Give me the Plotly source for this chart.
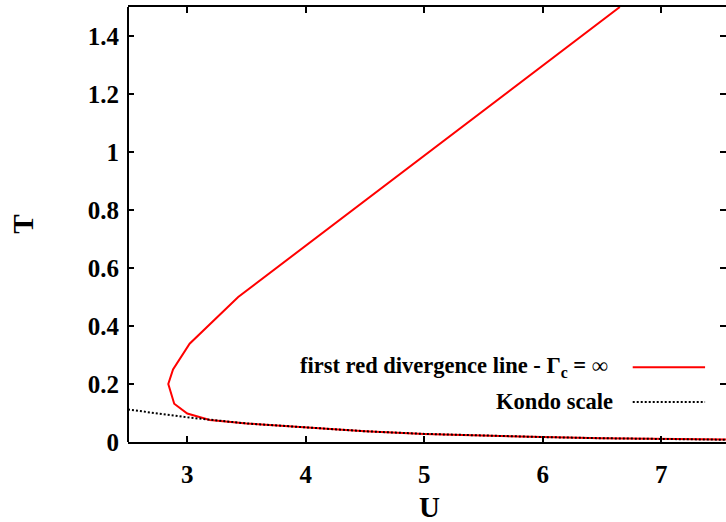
import plotly.graph_objects as go

# Data
red_U = [6.65, 3.43, 3.02, 2.88, 2.84, 2.89, 3.0, 3.19, 3.5, 4.0, 4.5, 5.0, 5.5, 6.0, 6.5, 7.0, 7.6]
red_T = [1.5, 0.5, 0.339, 0.25, 0.2, 0.132, 0.098, 0.076, 0.064, 0.050, 0.037, 0.028, 0.022, 0.017, 0.013, 0.010, 0.008]
kondo_U = [2.5, 3.0, 3.5, 4.0, 4.5, 5.0, 5.5, 6.0, 6.5, 7.0, 7.5, 7.6]
kondo_T = [0.112, 0.085, 0.064, 0.050, 0.037, 0.028, 0.022, 0.017, 0.013, 0.010, 0.008, 0.0075]
x_ticks = [3, 4, 5, 6, 7]
y_ticks = [0, 0.2, 0.4, 0.6, 0.8, 1, 1.2, 1.4]
y_labels = ["0", "0.2", "0.4", "0.6", "0.8", "1", "1.2", "1.4"]
label_red = "first red divergence line - Γ<sub>c</sub> = ∞"
label_kondo = "Kondo scale"

FONT = "Liberation Serif"

fig = go.Figure()
fig.add_trace(go.Scatter(x=red_U, y=red_T, mode="lines",
                         line=dict(color="#ff0000", width=2), showlegend=False))
fig.add_trace(go.Scatter(x=kondo_U, y=kondo_T, mode="lines",
                         line=dict(color="black", width=2, dash="2px,2px"), showlegend=False))

W, H = 726, 522
L, R, T, B = 128, 0, 7, 80

fig.update_layout(
    width=W, height=H,
    margin=dict(l=L, r=R, t=T, b=B),
    plot_bgcolor="white", paper_bgcolor="white",
    font=dict(family=FONT, color="black"),
    xaxis=dict(range=[2.5, 7.546], tickvals=x_ticks, ticks="inside", ticklen=6,
               tickwidth=2, tickcolor="black", showline=True, linecolor="black",
               linewidth=2, mirror="ticks", showgrid=False, zeroline=False,
               tickfont=dict(size=25, family=FONT, weight="bold"),
               ticklabelstandoff=9),
    yaxis=dict(range=[0, 1.5], tickvals=y_ticks, ticktext=y_labels, ticks="inside",
               ticklen=6, tickwidth=2, tickcolor="black", showline=False,
               mirror="ticks", showgrid=False, zeroline=False,
               tickfont=dict(size=25, family=FONT, weight="bold"),
               ticklabelstandoff=8),
    shapes=[
        dict(type="line", xref="paper", yref="paper", x0=0, x1=0, y0=0, y1=1,
             line=dict(color="black", width=2)),
        dict(type="line", xref="paper", yref="paper", x0=0.844, x1=0.965, y0=0.172, y1=0.172,
             line=dict(color="#ff0000", width=2)),
        dict(type="line", xref="paper", yref="paper", x0=0.844, x1=0.965, y0=0.092, y1=0.092,
             line=dict(color="black", width=2, dash="2px,2px")),
    ],
    annotations=[
        dict(text="<b>" + label_red + "</b>", xref="paper", yref="paper", x=0.806, y=0.172,
             xanchor="right", yanchor="middle", showarrow=False,
             font=dict(size=22.5, family=FONT)),
        dict(text="<b>" + label_kondo + "</b>", xref="paper", yref="paper", x=0.814, y=0.092,
             xanchor="right", yanchor="middle", showarrow=False,
             font=dict(size=22.5, family=FONT)),
        dict(text="<b>U</b>", xref="paper", yref="paper", x=0.505, y=-0.150,
             xanchor="center", yanchor="middle", showarrow=False,
             font=dict(size=29, family=FONT)),
        dict(text="<b>T</b>", xref="paper", yref="paper", x=-0.177, y=0.5,
             xanchor="center", yanchor="middle", showarrow=False, textangle=-90,
             font=dict(size=29, family=FONT)),
    ],
)

fig.write_html("out.html")
